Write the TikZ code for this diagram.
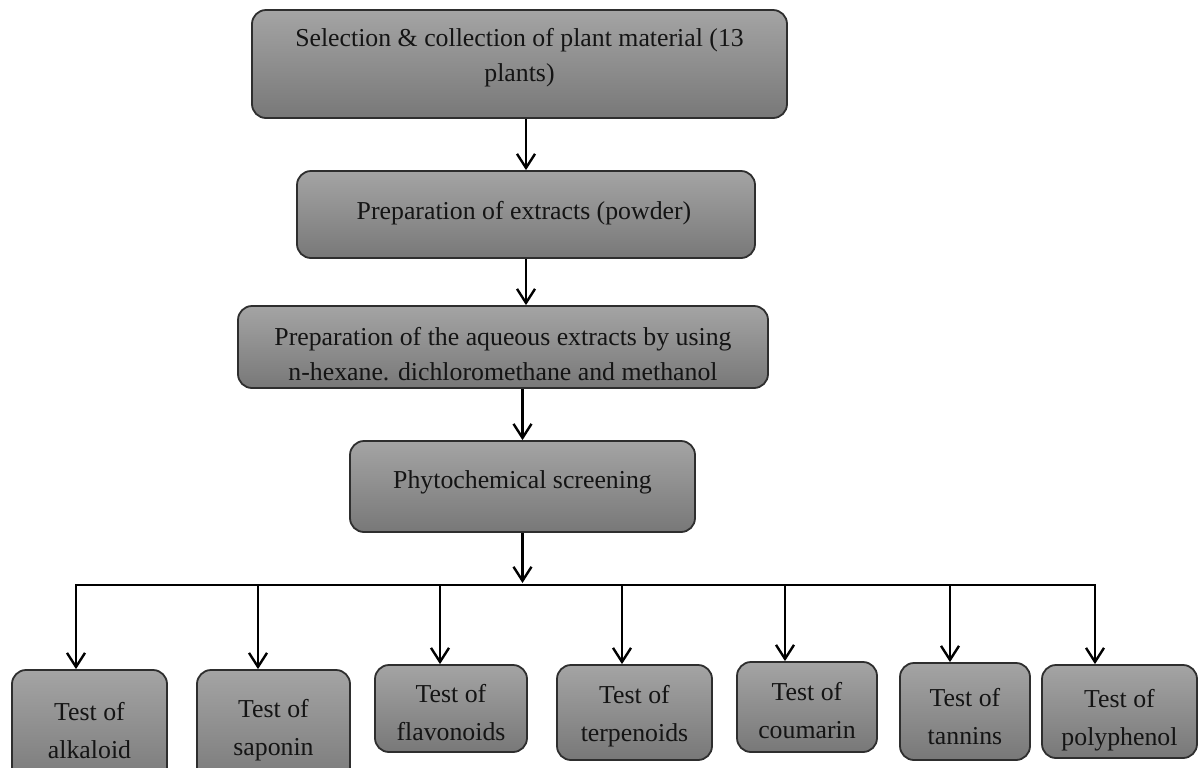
\documentclass[tikz,border=0pt]{standalone}
\usepackage{fontspec}
\setmainfont{Liberation Serif}
\usetikzlibrary{arrows.meta}
\definecolor{boxtop}{HTML}{A4A4A4}
\definecolor{boxbot}{HTML}{787878}
\definecolor{boxline}{HTML}{2E2E2E}
\definecolor{txtcol}{HTML}{141414}
\newcommand\boxat[5]{\node[box, minimum width={(#4-#2)*0.5pt}, minimum height={(#5-#3)*0.5pt}] (#1) at ({(#2+#4)/2},{(#3+#5)/2}) {};}
\begin{document}
\begin{tikzpicture}[x=0.5pt,y=-0.5pt,
  box/.style={draw=boxline, line width=0.9pt, rounded corners=7pt, top color=boxtop, bottom color=boxbot, inner sep=0pt},
  txt/.style={align=center, font=\fontsize{12.9}{17.5}\selectfont, text=txtcol, inner sep=0pt},
  btxt/.style={align=center, font=\fontsize{12.9}{19}\selectfont, text=txtcol, inner sep=0pt},
  arr/.style={-{Straight Barb[length=7pt,width=9pt]}, line width=1.2pt},
  bus/.style={line width=1.2pt, line cap=rect}]
\useasboundingbox (0,0) rectangle (1200,767);
\clip (0,0) rectangle (1200,767);
% main chain
\boxat{B1}{252}{10}{787}{118}
\node[txt] (T1) at (519.5,57.5) {Selection \& collection of plant material (13\\plants)};
\boxat{B2}{297}{171}{755}{258}
\node[txt] (T2) at (524,213) {Preparation of extracts (powder)};
\boxat{B3}{238}{306}{768}{388}
\node[txt] (T3) at (503,354.5) {Preparation of the aqueous extracts by using\\n-hexane. dichloromethane and methanol};
\boxat{B4}{350}{441}{695}{532}
\node[txt] (T4) at (522.5,482) {Phytochemical screening};
% bottom boxes
\boxat{C1}{12}{670}{167}{790}
\node[btxt] (U1) at (89.5,731) {Test of\\alkaloid};
\boxat{C2}{197}{670}{350}{790}
\node[btxt] (U2) at (273.5,730) {Test of\\saponin};
\boxat{C3}{375}{665}{527}{752}
\node[btxt] (U3) at (451,713) {Test of\\flavonoids};
\boxat{C4}{557}{665}{712}{760}
\node[btxt] (U4) at (634.5,716) {Test of\\terpenoids};
\boxat{C5}{737}{662}{877}{752}
\node[btxt] (U5) at (807,711) {Test of\\coumarin};
\boxat{C6}{900}{663}{1030}{760}
\node[btxt] (U6) at (965,717) {Test of\\tannins};
\boxat{C7}{1042}{665}{1197}{758}
\node[btxt] (U7) at (1119.5,720) {Test of\\polyphenol};
% connectors
\draw[arr] (B1.south -| B2.north) -- (B2.north);
\draw[arr] (B2.south) -- (B2.south |- B3.north);
\draw[arr] (B4.north |- B3.south) -- (B4.north);
\coordinate (bus) at (522.5,585);
\draw[arr] (B4.south) -- ([yshift=1pt]B4.south |- bus);
\coordinate (k1) at (76,585);
\coordinate (k2) at (258,585);
\coordinate (k3) at (440,585);
\coordinate (k4) at (622,585);
\coordinate (k5) at (785,585);
\coordinate (k6) at (950,585);
\coordinate (k7) at (1095,585);
\draw[bus] (k1) -- (k7);
\draw[arr] (k1) -- (k1 |- C1.north);
\draw[arr] (k2) -- (k2 |- C2.north);
\draw[arr] (k3) -- (k3 |- C3.north);
\draw[arr] (k4) -- (k4 |- C4.north);
\draw[arr] (k5) -- (k5 |- C5.north);
\draw[arr] (k6) -- (k6 |- C6.north);
\draw[arr] (k7) -- (k7 |- C7.north);
\end{tikzpicture}
\end{document}
